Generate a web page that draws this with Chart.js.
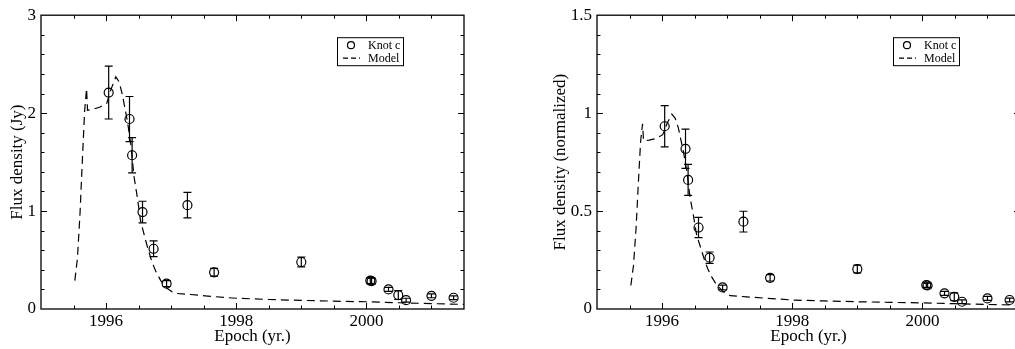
<!DOCTYPE html>
<html>
<head>
<meta charset="utf-8">
<script src="https://cdn.jsdelivr.net/npm/chart.js@4.4.0/dist/chart.umd.min.js"></script>
<style>
    html, body { margin: 0; padding: 0; background: #fff; overflow: hidden; width: 1015px; height: 349px; }
    #left_wrap { position: absolute; left: 0; top: 0; }
    #right_wrap { position: absolute; left: 510px; top: 0; }
</style>
</head>
<body>
<div id="left_wrap"><canvas id="flux_chart" width="490" height="349"></canvas></div>
<div id="right_wrap"><canvas id="norm_chart" width="520" height="349"></canvas></div>
<script>
// observed epochs of knot c (two near-identical epochs just after 2000)
var epochs = [1996.04, 1996.36, 1996.40, 1996.56, 1996.73, 1996.93, 1997.25, 1997.66,
              1999.00, 2000.06, 2000.08, 2000.34, 2000.49, 2000.61, 2001.00, 2001.34];
var fluxJy = [2.21, 1.94, 1.57, 0.99, 0.615, 0.26, 1.06, 0.375,
              0.48, 0.29, 0.285, 0.20, 0.142, 0.09, 0.135, 0.115];
var fluxJyErr = [0.27, 0.23, 0.18, 0.11, 0.08, 0.03, 0.13, 0.04,
                 0.05, 0.03, 0.03, 0.02, 0.045, 0.02, 0.02, 0.02];
var fluxNorm = [0.933, 0.818, 0.659, 0.416, 0.262, 0.11, 0.446, 0.159,
                0.204, 0.122, 0.120, 0.08, 0.062, 0.037, 0.054, 0.046];
var fluxNormErr = [0.105, 0.10, 0.079, 0.052, 0.029, 0.012, 0.053, 0.016,
                   0.02, 0.012, 0.012, 0.01, 0.02, 0.01, 0.01, 0.01];

// model light curve
var modelEpochs = [1995.52, 1995.56, 1995.60, 1995.635, 1995.67, 1995.70, 1995.715, 1995.80,
                   1995.90, 1996.01, 1996.08, 1996.15, 1996.20, 1996.25, 1996.33, 1996.38,
                   1996.43, 1996.48, 1996.53, 1996.60, 1996.65, 1996.70, 1996.76, 1996.84,
                   1996.94, 1997.05, 1997.30, 1997.56, 1997.82, 1998.00, 1998.50, 1999.00,
                   1999.50, 2000.00, 2000.50, 2001.00, 2001.50];
var modelJy = [0.29, 0.52, 0.98, 1.51, 2.02, 2.25, 2.03, 2.04,
               2.06, 2.10, 2.25, 2.37, 2.32, 2.19, 1.91, 1.68,
               1.35, 1.14, 0.90, 0.72, 0.60, 0.49, 0.39, 0.29,
               0.21, 0.16, 0.148, 0.132, 0.118, 0.110, 0.097, 0.088,
               0.080, 0.074, 0.064, 0.055, 0.047];
var modelNorm = [0.12, 0.22, 0.41, 0.64, 0.855, 0.945, 0.86, 0.862,
                 0.87, 0.89, 0.95, 0.995, 0.975, 0.925, 0.80, 0.705,
                 0.57, 0.48, 0.38, 0.305, 0.253, 0.207, 0.165, 0.122,
                 0.089, 0.068, 0.062, 0.056, 0.050, 0.046, 0.041, 0.037,
                 0.034, 0.031, 0.027, 0.023, 0.020];

var xTicks = [1996, 1998, 2000];
var yTicksJy = [0, 1, 2, 3];
var yTicksNorm = [0, 0.5, 1, 1.5];

var serif = '"Liberation Serif", "Times New Roman", serif';

function toPoints(xs, ys) {
    return xs.map(function (x, i) { return {x: x, y: ys[i]}; });
}

function plainLabel(v) { return String(v); }

// frame with inward ticks on all four sides
var framePlugin = {
    id: 'frame',
    afterDatasetsDraw: function (chart, args, opts) {
        var ctx = chart.ctx, a = chart.chartArea;
        var xs = chart.scales.x, ys = chart.scales.y;
        ctx.save();
        ctx.strokeStyle = '#000';
        ctx.lineWidth = 1.3;
        ctx.strokeRect(a.left, a.top, a.right - a.left, a.bottom - a.top);
        ctx.lineWidth = 1;
        ctx.beginPath();
        var v, p, len;
        for (v = xs.min + opts.xMinor; v < xs.max - 1e-6; v += opts.xMinor) {
            p = Math.round(xs.getPixelForValue(v)) + 0.5;
            len = xs.ticks.some(function (t) { return Math.abs(t.value - v) < 1e-6; }) ? 6 : 3.5;
            ctx.moveTo(p, a.bottom); ctx.lineTo(p, a.bottom - len);
            ctx.moveTo(p, a.top); ctx.lineTo(p, a.top + len);
        }
        for (v = ys.min + opts.yMinor; v < ys.max - 1e-6; v += opts.yMinor) {
            p = Math.round(ys.getPixelForValue(v)) + 0.5;
            len = ys.ticks.some(function (t) { return Math.abs(t.value - v) < 1e-6; }) ? 6 : 3.5;
            ctx.moveTo(a.left, p); ctx.lineTo(a.left + len, p);
            ctx.moveTo(a.right, p); ctx.lineTo(a.right - len, p);
        }
        ctx.stroke();
        ctx.restore();
    }
};

// vertical error bars with caps
var errorBarPlugin = {
    id: 'errorBars',
    beforeDatasetsDraw: function (chart) {
        var ctx = chart.ctx, xs = chart.scales.x, ys = chart.scales.y, a = chart.chartArea;
        ctx.save();
        ctx.beginPath();
        ctx.rect(a.left, a.top, a.right - a.left, a.bottom - a.top);
        ctx.clip();
        ctx.strokeStyle = '#000';
        ctx.lineWidth = 1.2;
        chart.data.datasets.forEach(function (ds) {
            if (!ds.errors) return;
            ds.data.forEach(function (pt, i) {
                var px = xs.getPixelForValue(pt.x);
                var top = ys.getPixelForValue(pt.y + ds.errors[i]);
                var bot = ys.getPixelForValue(pt.y - ds.errors[i]);
                ctx.beginPath();
                ctx.moveTo(px, top); ctx.lineTo(px, bot);
                ctx.moveTo(px - 4, top); ctx.lineTo(px + 4, top);
                ctx.moveTo(px - 4, bot); ctx.lineTo(px + 4, bot);
                ctx.stroke();
            });
        });
        ctx.restore();
    }
};

// boxed legend inside the plot
var boxLegendPlugin = {
    id: 'boxLegend',
    afterDraw: function (chart, args, opts) {
        var ctx = chart.ctx, a = chart.chartArea;
        var bx = a.left + opts.dx, by = a.top + opts.dy, bw = 66, bh = 28;
        ctx.save();
        ctx.fillStyle = '#fff';
        ctx.fillRect(bx, by, bw, bh);
        ctx.strokeStyle = '#000';
        ctx.lineWidth = 1;
        ctx.strokeRect(bx + 0.5, by + 0.5, bw, bh);
        ctx.font = '12px ' + serif;
        ctx.fillStyle = '#000';
        ctx.textBaseline = 'middle';
        chart.data.datasets.forEach(function (ds, i) {
            var cy = by + 8 + i * 13;
            ctx.lineWidth = 1.2;
            if (ds.showLine) {
                ctx.setLineDash([5, 3]);
                ctx.beginPath();
                ctx.moveTo(bx + 6, cy); ctx.lineTo(bx + 23, cy);
                ctx.stroke();
                ctx.setLineDash([]);
            } else {
                ctx.beginPath();
                ctx.arc(bx + 14, cy, 3.5, 0, Math.PI * 2);
                ctx.stroke();
            }
            ctx.fillText(ds.label, bx + 31, cy + 1);
        });
        ctx.restore();
    }
};

function makeChart(canvasId, obs, err, model, yMax, yTicks, yMinor, yTitle, yWidth, titlePad, padRight) {
    var ctx = document.getElementById(canvasId).getContext('2d');
    return new Chart(ctx, {
        type: 'scatter',
        data: {
            datasets: [{
                label: 'Knot c',
                data: toPoints(epochs, obs),
                errors: err,
                pointStyle: 'circle',
                pointRadius: 4.5,
                pointHoverRadius: 4.5,
                borderColor: '#000',
                borderWidth: 1.2,
                backgroundColor: 'rgba(0,0,0,0)'
            }, {
                label: 'Model',
                data: toPoints(modelEpochs, model),
                showLine: true,
                borderColor: '#000',
                borderWidth: 1.2,
                borderDash: [8, 5],
                pointRadius: 0,
                tension: 0
            }]
        },
        options: {
            responsive: false,
            animation: false,
            events: [],
            layout: { padding: { top: 13, right: padRight, left: 0, bottom: 0 } },
            plugins: {
                legend: { display: false },
                tooltip: { enabled: false },
                frame: { xMinor: 0.5, yMinor: yMinor },
                boxLegend: { dx: 296, dy: 22 }
            },
            scales: {
                x: {
                    type: 'linear',
                    min: 1995, max: 2001.5,
                    grid: { display: false, drawTicks: false },
                    border: { display: false },
                    afterBuildTicks: function (s) { s.ticks = xTicks.map(function (v) { return {value: v}; }); },
                    afterFit: function (s) { s.height = 40; },
                    ticks: { color: '#000', font: { family: serif, size: 17 }, padding: 2, autoSkip: false, maxRotation: 0, callback: plainLabel },
                    title: { display: true, text: 'Epoch (yr.)', color: '#000', font: { family: serif, size: 17 }, padding: { top: 0, bottom: 2 } }
                },
                y: {
                    min: 0, max: yMax,
                    grid: { display: false, drawTicks: false },
                    border: { display: false },
                    afterBuildTicks: function (s) { s.ticks = yTicks.map(function (v) { return {value: v}; }); },
                    afterFit: function (s) { s.width = yWidth; },
                    ticks: { color: '#000', font: { family: serif, size: 17 }, padding: 5, callback: plainLabel },
                    title: { display: true, text: yTitle, color: '#000', font: { family: serif, size: 17 }, padding: { top: titlePad, bottom: 0 } }
                }
            }
        },
        plugins: [errorBarPlugin, framePlugin, boxLegendPlugin]
    });
}

function init() {
    makeChart('flux_chart', fluxJy, fluxJyErr, modelJy, 3, yTicksJy, 0.2, 'Flux density (Jy)', 41, 7, 26);
    makeChart('norm_chart', fluxNorm, fluxNormErr, modelNorm, 1.5, yTicksNorm, 0.1, 'Flux density (normalized)', 87, 40, 10);
}

window.onload = init;
</script>
</body>
</html>
